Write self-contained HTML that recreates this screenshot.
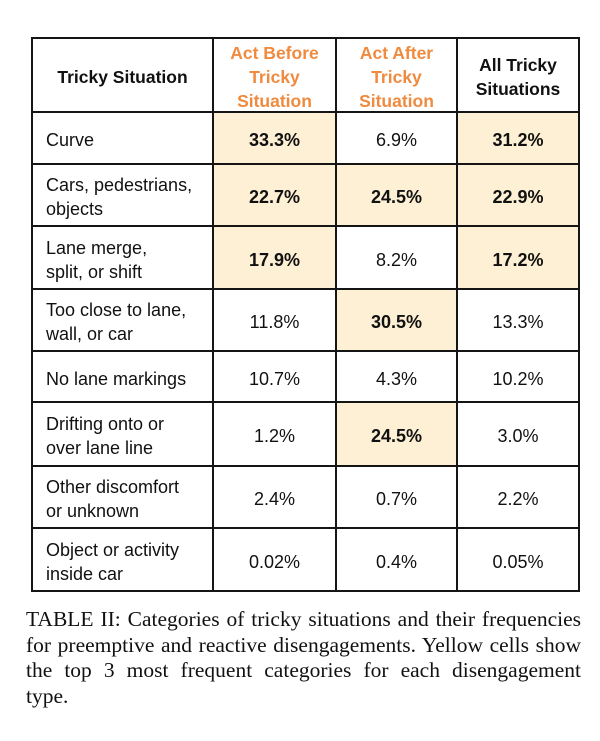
<!DOCTYPE html>
<html><head><meta charset="utf-8">
<style>
html,body{margin:0;padding:0;background:#fff;}
body{width:600px;height:741px;position:relative;overflow:hidden;font-family:"Liberation Sans",Arial,sans-serif;color:#111;}
.c{position:absolute;display:flex;align-items:center;justify-content:center;text-align:center;font-size:18px;line-height:24px;box-sizing:border-box;}
.c span{transform:translateY(2px);display:block;}
.l{justify-content:flex-start;text-align:left;padding-left:14px;}
.y{background:#fdf0d4;}
.b{font-weight:bold;}
.h{font-weight:bold;font-size:17.5px;line-height:24px;}
.o{color:#f08a3e;}
.v{position:absolute;width:2px;top:37px;height:555px;background:#151515;}
.hz{position:absolute;height:2px;left:31px;width:549px;background:#151515;}
.cap{position:absolute;left:26px;top:607px;width:555px;font-family:"Liberation Serif","Times New Roman",serif;font-size:21.5px;line-height:25.5px;color:#111;}
.cap div{text-align:justify;text-align-last:justify;white-space:nowrap;}
.cap div.last{text-align:left;text-align-last:left;}
</style></head><body>

<div class="c h" style="left:32px;top:38px;width:181px;height:74px;"><span>Tricky Situation</span></div>
<div class="c h o" style="left:213px;top:38px;width:123px;height:74px;"><span>Act Before<br>Tricky<br>Situation</span></div>
<div class="c h o" style="left:336px;top:38px;width:121px;height:74px;"><span>Act After<br>Tricky<br>Situation</span></div>
<div class="c h" style="left:457px;top:38px;width:122px;height:74px;"><span>All Tricky<br>Situations</span></div>

<div class="c l" style="left:32px;top:112px;width:181px;height:52px;"><span>Curve</span></div>
<div class="c y b" style="left:213px;top:112px;width:123px;height:52px;"><span>33.3%</span></div>
<div class="c" style="left:336px;top:112px;width:121px;height:52px;"><span>6.9%</span></div>
<div class="c y b" style="left:457px;top:112px;width:122px;height:52px;"><span>31.2%</span></div>

<div class="c l" style="left:32px;top:164px;width:181px;height:62px;"><span>Cars, pedestrians,<br>objects</span></div>
<div class="c y b" style="left:213px;top:164px;width:123px;height:62px;"><span>22.7%</span></div>
<div class="c y b" style="left:336px;top:164px;width:121px;height:62px;"><span>24.5%</span></div>
<div class="c y b" style="left:457px;top:164px;width:122px;height:62px;"><span>22.9%</span></div>

<div class="c l" style="left:32px;top:226px;width:181px;height:63px;"><span>Lane merge,<br>split, or shift</span></div>
<div class="c y b" style="left:213px;top:226px;width:123px;height:63px;"><span>17.9%</span></div>
<div class="c" style="left:336px;top:226px;width:121px;height:63px;"><span>8.2%</span></div>
<div class="c y b" style="left:457px;top:226px;width:122px;height:63px;"><span>17.2%</span></div>

<div class="c l" style="left:32px;top:289px;width:181px;height:62px;"><span>Too close to lane,<br>wall, or car</span></div>
<div class="c" style="left:213px;top:289px;width:123px;height:62px;"><span>11.8%</span></div>
<div class="c y b" style="left:336px;top:289px;width:121px;height:62px;"><span>30.5%</span></div>
<div class="c" style="left:457px;top:289px;width:122px;height:62px;"><span>13.3%</span></div>

<div class="c l" style="left:32px;top:351px;width:181px;height:51px;"><span>No lane markings</span></div>
<div class="c" style="left:213px;top:351px;width:123px;height:51px;"><span>10.7%</span></div>
<div class="c" style="left:336px;top:351px;width:121px;height:51px;"><span>4.3%</span></div>
<div class="c" style="left:457px;top:351px;width:122px;height:51px;"><span>10.2%</span></div>

<div class="c l" style="left:32px;top:402px;width:181px;height:64px;"><span>Drifting onto or<br>over lane line</span></div>
<div class="c" style="left:213px;top:402px;width:123px;height:64px;"><span>1.2%</span></div>
<div class="c y b" style="left:336px;top:402px;width:121px;height:64px;"><span>24.5%</span></div>
<div class="c" style="left:457px;top:402px;width:122px;height:64px;"><span>3.0%</span></div>

<div class="c l" style="left:32px;top:466px;width:181px;height:62px;"><span>Other discomfort<br>or unknown</span></div>
<div class="c" style="left:213px;top:466px;width:123px;height:62px;"><span>2.4%</span></div>
<div class="c" style="left:336px;top:466px;width:121px;height:62px;"><span>0.7%</span></div>
<div class="c" style="left:457px;top:466px;width:122px;height:62px;"><span>2.2%</span></div>

<div class="c l" style="left:32px;top:528px;width:181px;height:63px;"><span>Object or activity<br>inside car</span></div>
<div class="c" style="left:213px;top:528px;width:123px;height:63px;"><span>0.02%</span></div>
<div class="c" style="left:336px;top:528px;width:121px;height:63px;"><span>0.4%</span></div>
<div class="c" style="left:457px;top:528px;width:122px;height:63px;"><span>0.05%</span></div>

<div class="v" style="left:31px;"></div>
<div class="v" style="left:212px;"></div>
<div class="v" style="left:335px;"></div>
<div class="v" style="left:456px;"></div>
<div class="v" style="left:578px;"></div>

<div class="hz" style="top:37px;"></div>
<div class="hz" style="top:111px;"></div>
<div class="hz" style="top:163px;"></div>
<div class="hz" style="top:225px;"></div>
<div class="hz" style="top:288px;"></div>
<div class="hz" style="top:350px;"></div>
<div class="hz" style="top:401px;"></div>
<div class="hz" style="top:465px;"></div>
<div class="hz" style="top:527px;"></div>
<div class="hz" style="top:590px;"></div>

<div class="cap">
<div>TABLE II: Categories of tricky situations and their frequencies</div>
<div>for preemptive and reactive disengagements. Yellow cells show</div>
<div>the top 3 most frequent categories for each disengagement</div>
<div class="last">type.</div>
</div>

</body></html>
